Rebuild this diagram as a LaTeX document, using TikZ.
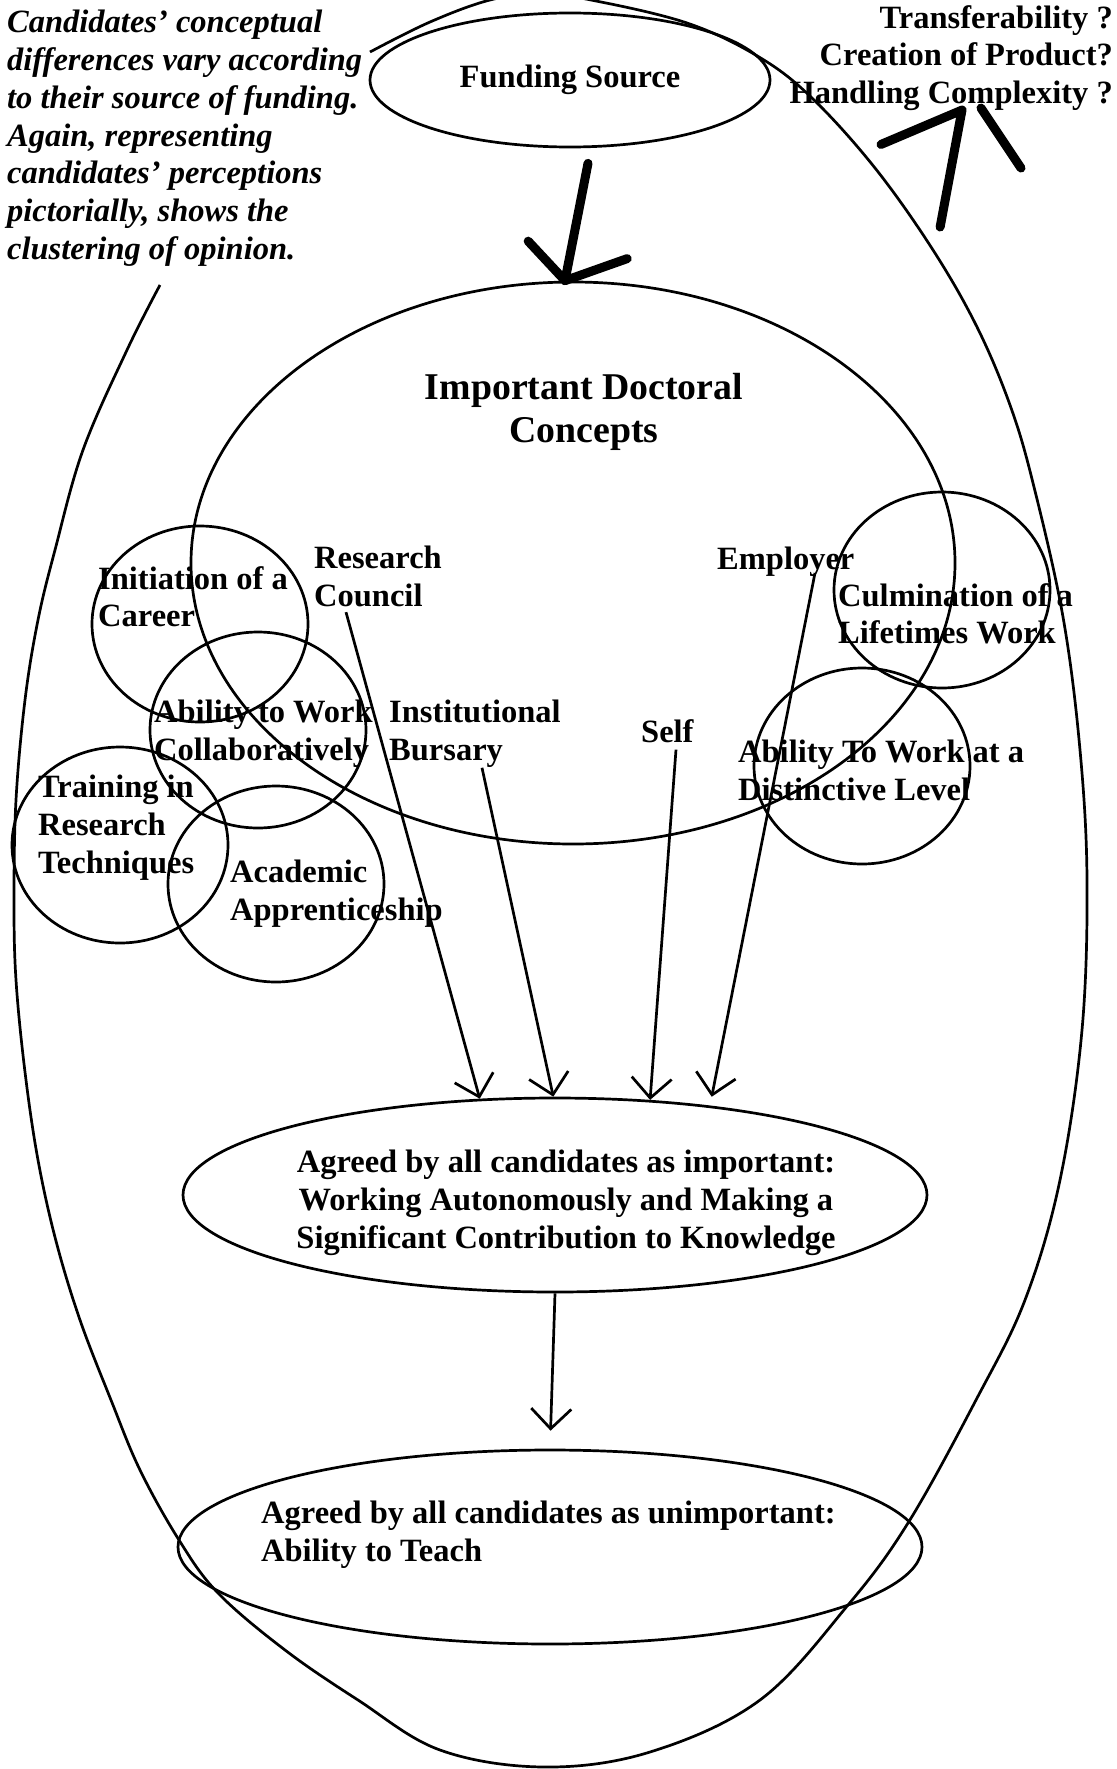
\documentclass[tikz,border=0pt]{standalone}
\usepackage{fontspec}
\setmainfont{Liberation Serif}
\usetikzlibrary{arrows.meta}
\usetikzlibrary{shapes.geometric}

\begin{document}
\begin{tikzpicture}[x=1pt,y=1pt,
  pen/.style={line width=2.7pt},
  arr/.style={pen,-{Straight Barb[length=20pt,width=40pt]}},
  heavy/.style={line width=9pt,line cap=round,line join=round},
  oval/.style={draw,pen,ellipse,inner sep=0pt},
  blob/.style={oval,minimum width=216pt,minimum height=196pt},
  txt/.style={inner sep=0pt,align=left,font=\fontsize{32.5}{37.8}\selectfont\bfseries}]
\useasboundingbox (0,0) rectangle (1116,-1769);
\clip (0,0) rectangle (1116,-1769);

\node[oval,minimum width=400pt,minimum height=134pt,font=\fontsize{32.5}{37.8}\selectfont\bfseries] (fund) at (570,-80) {Funding Source};
\node[oval,minimum width=764pt,minimum height=562pt] (concepts) at (573,-563) {};
\node[oval,minimum width=744pt,minimum height=194pt] (agreed) at (555,-1195) {};
\node[oval,minimum width=744pt,minimum height=194pt] (unimp) at (550,-1547) {};

\foreach \n/\x/\y in {career/200/624,collab/258/730,training/120/845,apprentice/276/884,lifetime/942/590,distinct/862/766}
  \node[blob] (\n) at (\x,-\y) {};

\draw[pen] plot[smooth,tension=0.6] coordinates {(370,-52) (430,-22) (490,0) (540,6) (591,0) (687,-23) (759,-57) (812,-98) (875,-168) (933,-250) (977,-327) (1010,-405) (1033,-483) (1063,-617) (1080,-750) (1087,-880) (1082,-1030) (1060,-1180) (1025,-1300) (976,-1400) (908,-1523) (848,-1605) (760,-1700) (650,-1752) (544,-1767) (440,-1750) (358,-1700) (285,-1650) (218,-1593) (179,-1540) (140,-1470) (111,-1400) (80,-1320) (56,-1241) (38,-1160) (25,-1072) (16,-980) (14,-900) (16,-800) (25,-700) (38,-620) (55,-550) (83,-450) (127,-350) (160,-285)};

\node[txt,anchor=north west] (note) at (7,-10) {\itshape Candidates’ conceptual\\\itshape differences vary according\\\itshape to their source of funding.\\\itshape Again, representing\\\itshape candidates’ perceptions\\\itshape pictorially, shows the\\\itshape clustering of opinion.};
\node[txt,anchor=north east,align=right] (qs) at (1113,-5) {Transferability ?\\Creation of Product?\\Handling Complexity ?};
\node[txt,anchor=north,align=center,font=\fontsize{37.8}{43}\selectfont\bfseries] (title) at (584,-373) {Important Doctoral\\Concepts};

\node[txt,anchor=north west] (careertxt) at (98,-566) {Initiation of a\\Career};
\node[txt,anchor=north west] (rc) at (314,-546) {Research\\Council};
\node[txt,anchor=north west] (collabtxt) at (154,-700) {Ability to Work\\Collaboratively};
\node[txt,anchor=north west] (ib) at (389,-700) {Institutional\\Bursary};
\node[txt,anchor=north west] (trainingtxt) at (38,-775) {Training in\\Research\\Techniques};
\node[txt,anchor=north west] (apprenticetxt) at (230,-860) {Academic\\Apprenticeship};
\node[txt,anchor=north west] (emp) at (717,-547) {Employer};
\node[txt,anchor=north west] (lifetimetxt) at (838,-583) {Culmination of a\\Lifetimes Work};
\node[txt,anchor=north west] (self) at (641,-719) {Self};
\node[txt,anchor=north west] (distincttxt) at (738,-740) {Ability To Work at a\\Distinctive Level};
\node[txt,anchor=north,align=center] (agreedtxt) at (566,-1150) {Agreed by all candidates as important:\\Working Autonomously and Making a\\Significant Contribution to Knowledge};
\node[txt,anchor=north west] (unimptxt) at (261,-1501) {Agreed by all candidates as unimportant:\\Ability to Teach};

\path (fund.south) +(18,-15) coordinate (fbot);
\path (concepts.north) +(-8,0) coordinate (ctop);
\draw[heavy] (fbot) -- (ctop) -- +(133:54);
\draw[heavy] (ctop) -- +(19.5:66);

\path (qs.south east) +(-151,1) coordinate (qtip);
\path (qtip) +(259.4:119) coordinate (qfoot);
\path (qtip) +(203:88) coordinate (qarm);
\path (qtip) +(19,2) coordinate (qarmb);
\draw[heavy] (qfoot) -- (qtip) -- (qarm);
\draw[heavy] (qarmb) -- +(40,-60);

\path (rc.south west) +(32,-5) coordinate (rcfoot);
\path (ib.south west) +(93,0) coordinate (ibfoot);
\path (self.south west) +(35,-7) coordinate (selffoot);
\path (emp.south west) +(98,4) coordinate (empfoot);
\draw[arr] (rcfoot) -- (agreed.128);
\draw[arr] (ibfoot) -- (agreed.91);
\draw[arr] (selffoot) -- (agreed.45);
\draw[arr,shorten >=9pt] (empfoot) -- (agreed.30);
\draw[arr,shorten >=18pt] (agreed.south) -- (unimp.north);

\end{tikzpicture}
\end{document}
